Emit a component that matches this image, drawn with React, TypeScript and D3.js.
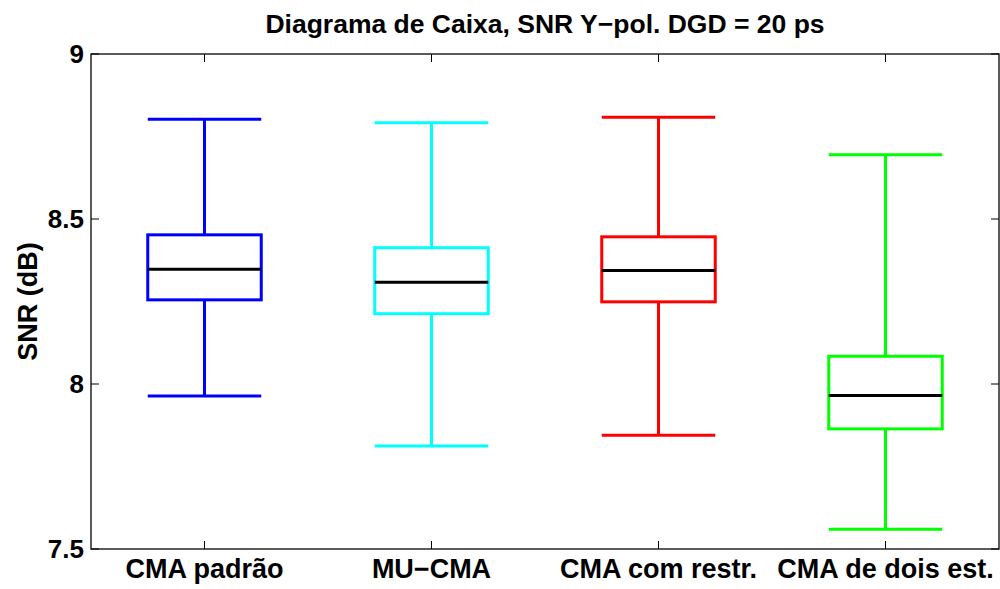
import React from 'react';
import * as d3 from 'd3';

// box plot data (dB)
const categories = ['CMA padrão', 'MU\u2212CMA', 'CMA com restr.', 'CMA de dois est.'];
const whiskerHigh = [8.802, 8.792, 8.808, 8.695];
const q3 = [8.452, 8.413, 8.446, 8.084];
const medians = [8.348, 8.308, 8.344, 7.965];
const q1 = [8.255, 8.213, 8.249, 7.864];
const whiskerLow = [7.964, 7.812, 7.845, 7.560];
const colors = ['#0000ff', '#00ffff', '#ff0000', '#00ff00'];
const yTicks = [7.5, 8, 8.5, 9];

const W = 1000;
const H = 589;
const margin = { top: 54, right: 1, bottom: 40, left: 91 };

const App = () => {
  const iw = W - margin.left - margin.right;
  const ih = H - margin.top - margin.bottom;

  // MATLAB-style x axis: categories at 1..4, limits 0.5..4.5
  const x = d3.scaleLinear().domain([0.5, categories.length + 0.5]).range([0, iw]);
  const y = d3.scaleLinear().domain([7.5, 9]).range([ih, 0]);
  const half = (x(1.25) - x(1)); // box half width = 0.25 units
  const tickLen = 8;
  const font = '"Liberation Sans", Arial, Helvetica, sans-serif';

  return (
    <svg width={W} height={H} style={{ position: 'absolute', left: 0, top: 0, background: '#fff' }} fontFamily={font}>
      <text x={margin.left + iw / 2} y={33} textAnchor="middle" fontSize={26.5} fontWeight="bold">
        Diagrama de Caixa, SNR Y−pol. DGD = 20 ps
      </text>
      <text transform={`translate(37,${margin.top + ih / 2}) rotate(-90)`} textAnchor="middle" fontSize={27} fontWeight="bold">
        SNR (dB)
      </text>
      <g transform={`translate(${margin.left},${margin.top})`}>
        {categories.map((c, i) => {
          const cx = x(i + 1);
          const col = colors[i];
          return (
            <g key={c} stroke={col} strokeWidth={3} fill="none">
              <line x1={cx} x2={cx} y1={y(whiskerHigh[i])} y2={y(q3[i])} />
              <line x1={cx} x2={cx} y1={y(q1[i])} y2={y(whiskerLow[i])} />
              <line x1={cx - half} x2={cx + half} y1={y(whiskerHigh[i])} y2={y(whiskerHigh[i])} />
              <line x1={cx - half} x2={cx + half} y1={y(whiskerLow[i])} y2={y(whiskerLow[i])} />
              <rect x={cx - half} y={y(q3[i])} width={2 * half} height={y(q1[i]) - y(q3[i])} />
              <line x1={cx - half} x2={cx + half} y1={y(medians[i])} y2={y(medians[i])} stroke="#000" />
            </g>
          );
        })}
        {/* frame */}
        <rect x={0} y={0} width={iw} height={ih} fill="none" stroke="#262626" strokeWidth={1.5} />
        {yTicks.map(t => (
          <g key={t}>
            <line x1={0} x2={tickLen} y1={y(t)} y2={y(t)} stroke="#000" />
            <line x1={iw - tickLen} x2={iw} y1={y(t)} y2={y(t)} stroke="#000" />
            <text x={-7} y={y(t)} dy="0.36em" textAnchor="end" fontSize={26} fontWeight="bold">
              {d3.format('')(t)}
            </text>
          </g>
        ))}
        {categories.map((c, i) => (
          <g key={c}>
            <line x1={x(i + 1)} x2={x(i + 1)} y1={ih} y2={ih - tickLen} stroke="#000" />
            <line x1={x(i + 1)} x2={x(i + 1)} y1={0} y2={tickLen} stroke="#000" />
            <text x={x(i + 1)} y={ih + 29} textAnchor="middle" fontSize={27} fontWeight="bold">
              {c}
            </text>
          </g>
        ))}
      </g>
    </svg>
  );
};

export default App;
